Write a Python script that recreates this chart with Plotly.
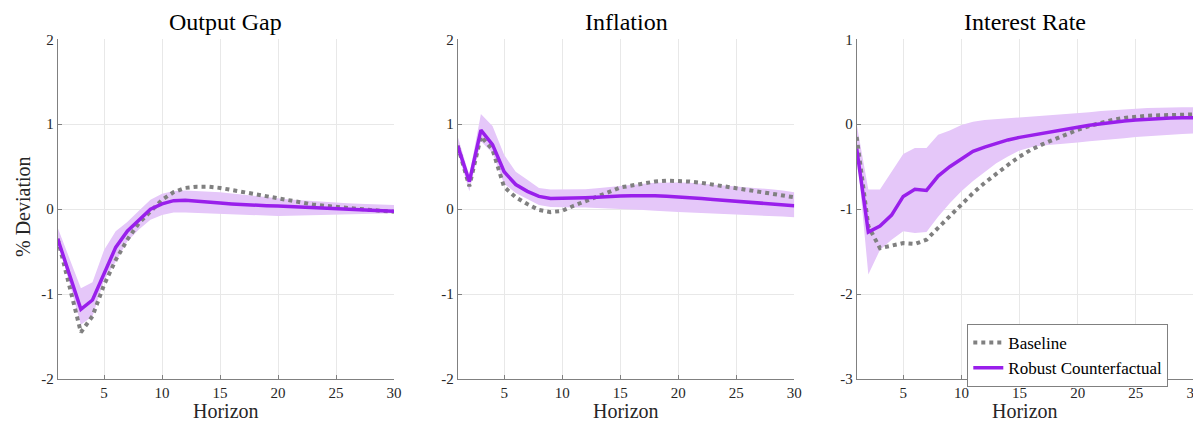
import plotly.graph_objects as go

horizon = list(range(1, 31))

titles = ["Output Gap", "Inflation", "Interest Rate"]

rob_og = [-0.35, -0.77, -1.18, -1.07, -0.75, -0.45, -0.26, -0.13, 0.0, 0.063, 0.10, 0.106, 0.098, 0.086, 0.072,
          0.062, 0.053, 0.046, 0.041, 0.037, 0.032, 0.027, 0.02, 0.013, 0.007, 0.0, -0.006, -0.012, -0.018, -0.025]
base_og = [-0.35, -0.90, -1.45, -1.26, -0.89, -0.60, -0.36, -0.165, -0.02, 0.11, 0.20, 0.25, 0.265, 0.265, 0.25,
           0.225, 0.20, 0.17, 0.145, 0.12, 0.095, 0.075, 0.055, 0.04, 0.025, 0.01, 0.0, -0.01, -0.02, -0.03]
up_og = [-0.22, -0.58, -0.93, -0.86, -0.48, -0.26, -0.15, -0.02, 0.11, 0.18, 0.215, 0.22, 0.215, 0.21, 0.2,
         0.185, 0.17, 0.155, 0.14, 0.125, 0.115, 0.105, 0.095, 0.085, 0.08, 0.07, 0.065, 0.06, 0.055, 0.05]
lo_og = [-0.37, -0.85, -1.36, -1.26, -0.84, -0.62, -0.38, -0.24, -0.125, -0.07, -0.04, -0.04, -0.045, -0.055, -0.06,
         -0.065, -0.07, -0.075, -0.078, -0.08, -0.078, -0.075, -0.07, -0.065, -0.06, -0.058, -0.055, -0.052, -0.05, -0.048]

rob_inf = [0.745, 0.325, 0.93, 0.76, 0.44, 0.29, 0.21, 0.15, 0.125, 0.125, 0.13, 0.135, 0.14, 0.15, 0.155,
           0.158, 0.16, 0.158, 0.152, 0.14, 0.133, 0.125, 0.115, 0.105, 0.095, 0.085, 0.075, 0.063, 0.052, 0.04]
base_inf = [0.745, 0.27, 0.855, 0.70, 0.26, 0.14, 0.06, -0.01, -0.035, -0.02, 0.04, 0.09, 0.14, 0.2, 0.255,
            0.28, 0.305, 0.325, 0.335, 0.335, 0.325, 0.31, 0.29, 0.27, 0.25, 0.23, 0.21, 0.19, 0.165, 0.14]
up_inf = [0.855, 0.40, 1.12, 0.98, 0.64, 0.44, 0.345, 0.25, 0.23, 0.23, 0.23, 0.235, 0.245, 0.26, 0.275,
          0.29, 0.3, 0.31, 0.315, 0.315, 0.31, 0.3, 0.29, 0.28, 0.27, 0.26, 0.25, 0.235, 0.22, 0.2]
lo_inf = [0.68, 0.21, 0.80, 0.66, 0.30, 0.19, 0.12, 0.05, 0.025, 0.02, 0.02, 0.02, 0.015, 0.01, 0.005,
          0.0, -0.01, -0.02, -0.03, -0.035, -0.04, -0.045, -0.05, -0.055, -0.06, -0.065, -0.07, -0.08, -0.088, -0.095]

rob_ir = [-0.29, -1.27, -1.2, -1.07, -0.85, -0.765, -0.78, -0.61, -0.5, -0.41, -0.32, -0.27, -0.225, -0.185, -0.155,
          -0.13, -0.1, -0.08, -0.055, -0.035, -0.012, 0.008, 0.025, 0.038, 0.05, 0.06, 0.067, 0.072, 0.075, 0.075]
base_ir = [-0.15, -1.2, -1.46, -1.43, -1.4, -1.41, -1.36, -1.22, -1.08, -0.94, -0.81, -0.69, -0.58, -0.48, -0.38,
           -0.3, -0.235, -0.175, -0.12, -0.065, -0.02, 0.02, 0.05, 0.075, 0.09, 0.1, 0.105, 0.11, 0.115, 0.115]
up_ir = [0.0, -0.77, -0.77, -0.56, -0.35, -0.28, -0.28, -0.125, -0.075, -0.01, 0.03, 0.05, 0.06, 0.07, 0.075,
         0.085, 0.095, 0.105, 0.115, 0.125, 0.14, 0.155, 0.165, 0.175, 0.185, 0.19, 0.195, 0.2, 0.2, 0.2]
lo_ir = [-0.3, -1.77, -1.48, -1.36, -1.26, -1.28, -1.27, -1.09, -0.93, -0.79, -0.67, -0.56, -0.46, -0.38, -0.31,
         -0.27, -0.25, -0.24, -0.23, -0.215, -0.2, -0.19, -0.175, -0.165, -0.15, -0.14, -0.13, -0.12, -0.115, -0.11]

y_ranges = [[-2, 2], [-2, 2], [-3, 1]]
y_ticks = [[-2, -1, 0, 1, 2], [-2, -1, 0, 1, 2], [-3, -2, -1, 0, 1]]
y_ticktext = [["-2", "-1", "0", "1", "2"], ["-2", "-1", "0", "1", "2"], ["-3", "-2", "-1", "0", "1"]]
x_ticks = [5, 10, 15, 20, 25, 30]

panels = [
    (base_og, rob_og, up_og, lo_og),
    (base_inf, rob_inf, up_inf, lo_inf),
    (base_ir, rob_ir, up_ir, lo_ir),
]

# page has an 8px body margin; figure coordinates are page coordinates minus 8
OFF = 8
W, H = 1201 - OFF, 423 - OFF


def fx(px):
    return (px - OFF) / W


def fy(py):
    return (H - (py - OFF)) / H


x_dom = [[fx(57.7), fx(394.0)], [fx(457.7), fx(794.3)], [fx(856.7), fx(1194.0)]]
y_dom = [fy(379.0), fy(39.3)]

FONT = "Liberation Serif"
PURPLE = "rgb(153,31,235)"
BAND = "rgb(229,199,249)"
GRAY = "rgb(128,128,128)"

fig = go.Figure()
for i, (base, rob, up, lo) in enumerate(panels):
    ax = "" if i == 0 else str(i + 1)
    xa, ya = "x" + ax, "y" + ax
    fig.add_trace(go.Scatter(x=horizon, y=up, mode="lines", line=dict(width=0, color=BAND),
                             showlegend=False, hoverinfo="skip", xaxis=xa, yaxis=ya))
    fig.add_trace(go.Scatter(x=horizon, y=lo, mode="lines", line=dict(width=0, color=BAND),
                             fill="tonexty", fillcolor=BAND,
                             showlegend=False, hoverinfo="skip", xaxis=xa, yaxis=ya))
    fig.add_trace(go.Scatter(x=horizon, y=base, mode="lines", name="Baseline",
                             line=dict(color=GRAY, width=4, dash="dot"),
                             showlegend=(i == 2), xaxis=xa, yaxis=ya))
    fig.add_trace(go.Scatter(x=horizon, y=rob, mode="lines", name="Robust Counterfactual",
                             line=dict(color=PURPLE, width=3.5),
                             showlegend=(i == 2), xaxis=xa, yaxis=ya))

    axis_common = dict(showline=True, linecolor="rgb(128,128,128)", linewidth=1,
                       showgrid=True, gridcolor="rgb(232,232,232)", gridwidth=1,
                       ticks="inside", ticklen=4, tickcolor="rgb(128,128,128)",
                       tickfont=dict(family=FONT, size=15, color="rgb(38,38,38)"),
                       ticklabeloverflow="allow",
                       zeroline=False, mirror=False, automargin=False)
    fig.layout["xaxis" + ax] = dict(axis_common, domain=x_dom[i], range=[1, 30], tickvals=x_ticks,
                                    anchor=ya)
    fig.layout["yaxis" + ax] = dict(axis_common, domain=y_dom, range=y_ranges[i], tickvals=y_ticks[i],
                                    ticktext=y_ticktext[i], anchor=xa)
    xc = (x_dom[i][0] + x_dom[i][1]) / 2
    fig.add_annotation(text=titles[i], x=xc, y=1, xref="paper", yref="paper",
                       showarrow=False, xanchor="center", yanchor="top", borderpad=0,
                       font=dict(family=FONT, size=24, color="black"))
    fig.add_annotation(text="Horizon", x=xc, y=0, xref="paper", yref="paper",
                       showarrow=False, xanchor="center", yanchor="bottom", borderpad=0,
                       font=dict(family=FONT, size=20, color="rgb(38,38,38)"))

fig.add_annotation(text="% Deviation", x=fx(23), y=fy(207), xref="paper", yref="paper",
                   showarrow=False, xanchor="center", yanchor="middle", textangle=-90,
                   font=dict(family=FONT, size=20, color="rgb(38,38,38)"))

fig.update_layout(
    width=W, height=H,
    margin=dict(l=0, r=0, t=0, b=0, autoexpand=False),
    paper_bgcolor="white", plot_bgcolor="white",
    showlegend=True,
    legend=dict(x=fx(967.3), y=fy(324), xanchor="left", yanchor="top",
                bgcolor="white", bordercolor="rgb(128,128,128)", borderwidth=1,
                font=dict(family=FONT, size=17, color="black"),
                traceorder="normal", tracegroupgap=0, itemwidth=30),
)

fig.write_html("out.html")
